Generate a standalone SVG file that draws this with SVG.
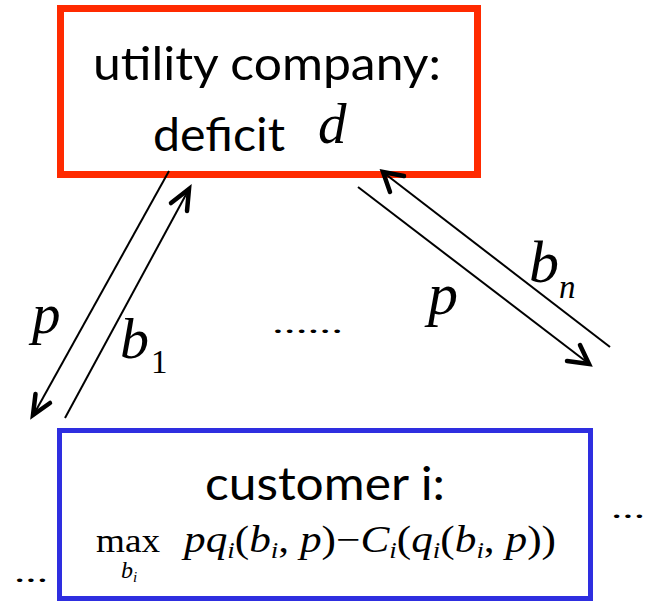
<svg xmlns="http://www.w3.org/2000/svg" width="654" height="602" viewBox="0 0 654 602">
<defs>
<style>
.sans{font-family:Lato,"Open Sans","Liberation Sans",sans-serif;fill:#000}
.math{font-family:"Liberation Serif",serif;font-style:italic;fill:#000}
.rm{font-family:"Liberation Serif",serif;fill:#000}
.conn{stroke:#000;stroke-width:2;fill:none}
.head{stroke:#000;stroke-width:4.5;fill:none;stroke-linecap:round;stroke-linejoin:miter}
</style>
</defs>
<rect width="654" height="602" fill="#fff"/>
<g id="utility">
<rect x="60.5" y="8.5" width="417" height="166" fill="none" stroke="#ff2a00" stroke-width="7"/>
<text class="sans" x="93" y="80" font-size="47" textLength="348" lengthAdjust="spacingAndGlyphs">utility company:</text>
<text class="sans" x="153" y="151" font-size="47" textLength="132" lengthAdjust="spacingAndGlyphs">deficit</text>
<text class="math" x="318" y="143" font-size="57">d</text>
</g>
<g id="customer">
<rect x="59.5" y="430.5" width="531" height="168" fill="none" stroke="#2e2ee0" stroke-width="5"/>
<text class="sans" x="205" y="500" font-size="46" textLength="240" lengthAdjust="spacingAndGlyphs">customer i:</text>
<text class="rm" x="96" y="552" font-size="33" textLength="64" lengthAdjust="spacingAndGlyphs">max</text>
<text class="math" x="121" y="578" font-size="24">b<tspan font-size="15" dy="4">i</tspan></text>
<text class="math" x="184" y="552" font-size="37" textLength="372" lengthAdjust="spacingAndGlyphs">pq<tspan font-size="23" dy="6">i</tspan><tspan dy="-6" font-style="normal">(</tspan>b<tspan font-size="23" dy="6">i</tspan><tspan dy="-6" font-style="normal">, </tspan>p<tspan font-style="normal">)−</tspan>C<tspan font-size="23" dy="6">i</tspan><tspan dy="-6" font-style="normal">(</tspan>q<tspan font-size="23" dy="6">i</tspan><tspan dy="-6" font-style="normal">(</tspan>b<tspan font-size="23" dy="6">i</tspan><tspan dy="-6" font-style="normal">, </tspan>p<tspan font-style="normal">))</tspan></text>
</g>
<g id="connectors">
<line class="conn" x1="169" y1="171" x2="34" y2="414"/>
<polyline class="head" points="35.5,394 33,415 50,403"/>
<line class="conn" x1="65" y1="418" x2="189" y2="189"/>
<polyline class="head" points="171,203 189,189 187,211"/>
<line class="conn" x1="358" y1="187" x2="588" y2="363"/>
<polyline class="head" points="567,361 589,364 580,345"/>
<line class="conn" x1="610" y1="347" x2="384" y2="173"/>
<polyline class="head" points="404,176 383,172 390,192"/>
</g>
<g id="labels">
<text class="math" x="32" y="333" font-size="57">p</text>
<text class="math" x="120" y="358" font-size="58">b</text>
<text class="rm" x="151" y="373" font-size="33">1</text>
<text class="math" x="428" y="314" font-size="60">p</text>
<text class="math" x="529" y="282" font-size="60">b</text>
<text class="math" x="559" y="298" font-size="33">n</text>
<text class="rm" x="272" y="333" font-size="30" textLength="71" lengthAdjust="spacingAndGlyphs">......</text>
<text class="rm" x="14" y="582" font-size="30" textLength="34" lengthAdjust="spacingAndGlyphs">...</text>
<text class="rm" x="611" y="518" font-size="30" textLength="34" lengthAdjust="spacingAndGlyphs">...</text>
</g>
</svg>
